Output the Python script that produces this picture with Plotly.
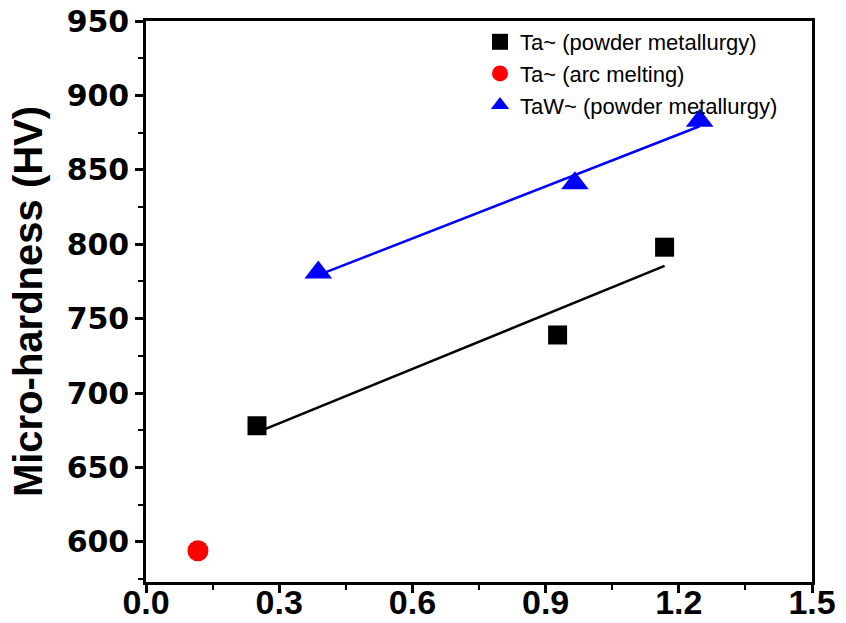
import numpy as np
import plotly.graph_objects as go

# Data
ta_pm_x = [0.25, 0.927, 1.168]
ta_pm_y = [678, 739, 798]
ta_arc_x = [0.117]
ta_arc_y = [594]
taw_pm_x = [0.388, 0.966, 1.247]
taw_pm_y = [781, 841, 883]

names = ["Ta~ (powder metallurgy)", "Ta~ (arc melting)", "TaW~ (powder metallurgy)"]

x_range = [0, 1.5]
y_range = [573, 950]
x_ticks = [0.0, 0.3, 0.6, 0.9, 1.2, 1.5]
x_ticklabels = ["0.0", "0.3", "0.6", "0.9", "1.2", "1.5"]
y_ticks = [600, 650, 700, 750, 800, 850, 900, 950]


def fit(xs, ys):
    k, b = np.polyfit(xs, ys, 1)
    xx = np.array([min(xs), max(xs)])
    return xx, k * xx + b

fig = go.Figure()

fx, fy = fit(ta_pm_x, ta_pm_y)
fig.add_trace(go.Scatter(x=fx, y=fy, mode="lines", line=dict(color="black", width=2.5),
                         showlegend=False, hoverinfo="skip"))
gx, gy = fit(taw_pm_x, taw_pm_y)
fig.add_trace(go.Scatter(x=gx, y=gy, mode="lines", line=dict(color="#0000ff", width=2.5),
                         showlegend=False, hoverinfo="skip"))

fig.add_trace(go.Scatter(x=ta_pm_x, y=ta_pm_y, mode="markers", name=names[0],
                         marker=dict(symbol="square", size=19, color="black")))
fig.add_trace(go.Scatter(x=ta_arc_x, y=ta_arc_y, mode="markers", name=names[1],
                         marker=dict(symbol="circle", size=21, color="#ff0000")))
fig.add_trace(go.Scatter(x=taw_pm_x, y=taw_pm_y, mode="markers", name=names[2],
                         marker=dict(symbol="triangle-up", size=24, color="#0000ff")))

fig.update_layout(
    width=846, height=623,
    margin=dict(l=146, r=34, t=21, b=41),
    paper_bgcolor="white", plot_bgcolor="white",
    showlegend=True,
    legend=dict(x=0.5015, y=1.0, xanchor="left", yanchor="top",
                bgcolor="rgba(0,0,0,0)", borderwidth=0,
                font=dict(family="Liberation Sans, Arial", size=22, color="black"),
                itemwidth=30, tracegroupgap=0),
    xaxis=dict(range=x_range, tickvals=x_ticks, ticktext=x_ticklabels,
               showgrid=False, zeroline=False,
               showline=True, linecolor="black", linewidth=2.5, mirror=True,
               ticks="outside", ticklen=8, tickwidth=2.5, tickcolor="black",
               ticklabelstandoff=-20,
               minor=dict(dtick=0.15, tick0=0, ticks="outside", ticklen=5, tickwidth=2, tickcolor="black"),
               tickfont=dict(family="Liberation Sans, Arial", size=34, color="black", weight="bold"),
               automargin=False),
    yaxis=dict(range=y_range, tickvals=y_ticks,
               showgrid=False, zeroline=False,
               showline=True, linecolor="black", linewidth=2.5, mirror=True,
               ticks="outside", ticklen=8, tickwidth=2.5, tickcolor="black",
               minor=dict(dtick=25, tick0=575, ticks="outside", ticklen=5, tickwidth=2, tickcolor="black"),
               tickfont=dict(family="DejaVu Sans, Arial", size=30, color="black", weight="bold"),
               title=dict(text="Micro-hardness (HV)", standoff=12,
                          font=dict(family="Liberation Sans, Arial", size=40, color="black", weight="bold")),
               automargin=False),
)

fig.write_html("out.html")
